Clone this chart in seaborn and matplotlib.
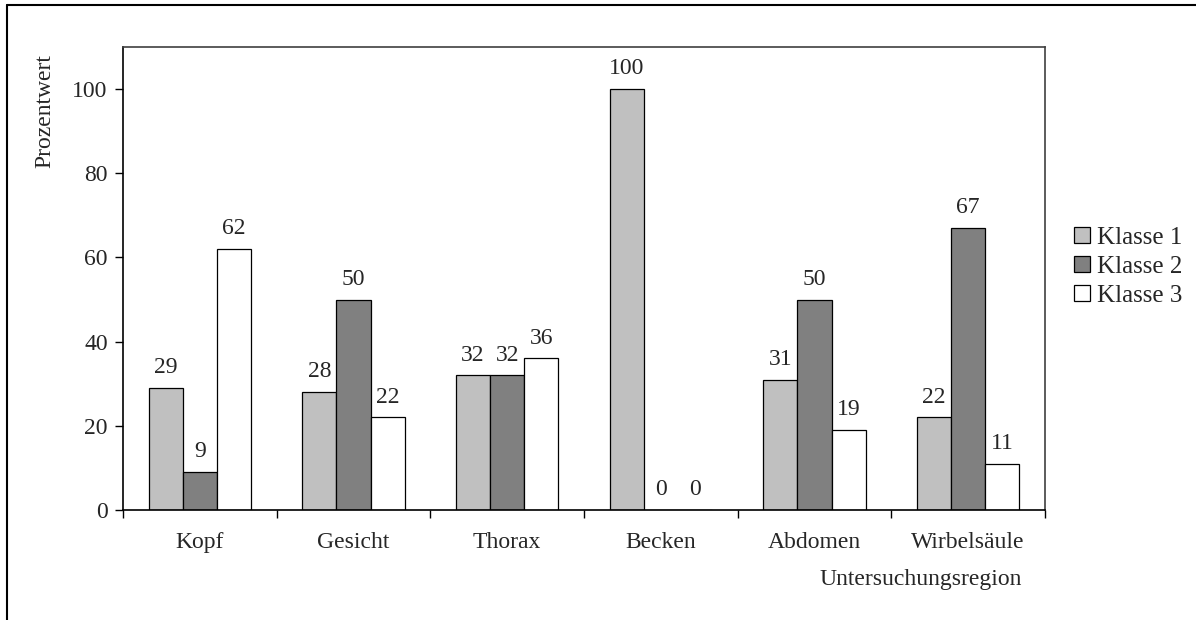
import matplotlib
matplotlib.use("Agg")
import matplotlib.pyplot as plt
from matplotlib.lines import Line2D
from matplotlib.patches import Patch
import seaborn as sns
import pandas as pd

regions = ["Kopf", "Gesicht", "Thorax", "Becken", "Abdomen", "Wirbelsäule"]
klassen = ["Klasse 1", "Klasse 2", "Klasse 3"]
klasse1 = [29, 28, 32, 100, 31, 22]
klasse2 = [9, 50, 32, 0, 50, 67]
klasse3 = [62, 22, 36, 0, 19, 11]
y_ticks = [0, 20, 40, 60, 80, 100]
colors = ["#C0C0C0", "#808080", "#FFFFFF"]

rows = []
for klasse, werte in zip(klassen, [klasse1, klasse2, klasse3]):
    for region, wert in zip(regions, werte):
        rows.append({"Region": region, "Klasse": klasse, "Wert": wert})
df = pd.DataFrame(rows)

sns.set_style("white")
plt.rcParams["font.family"] = ["Liberation Serif", "DejaVu Serif"]
FS = 17

fig = plt.figure(figsize=(11.96, 6.2), dpi=100)
ax = fig.add_axes([123 / 1196, 1 - 510 / 620, (1045 - 123) / 1196, (510 - 47) / 620])

sns.barplot(data=df, x="Region", y="Wert", hue="Klasse", order=regions,
            hue_order=klassen, palette=colors, saturation=1, width=2 / 3,
            edgecolor="black", linewidth=0.9, legend=False, ax=ax)

for cont in ax.containers:
    ax.bar_label(cont, labels=[f"{v:.0f}" for v in cont.datavalues],
                 padding=7, fontsize=FS)

ax.set_xlim(-0.5, 5.5)
ax.set_ylim(0, 110)
ax.set_yticks(y_ticks)
ax.set_xlabel("")
ax.set_ylabel("")

ax.set_xticks([i - 0.5 for i in range(7)], minor=True)
ax.tick_params(axis="x", which="minor", length=6, width=1, direction="out",
               bottom=True, color="black")
ax.tick_params(axis="x", which="major", length=0, pad=16, labelsize=FS)
ax.tick_params(axis="y", length=6, width=1, direction="out", left=True,
               pad=5, labelsize=FS, color="black")

for side in ["left", "bottom"]:
    ax.spines[side].set_color("black")
    ax.spines[side].set_linewidth(1.2)
for side in ["top", "right"]:
    ax.spines[side].set_color("#404040")
    ax.spines[side].set_linewidth(1.2)

fig.text(45 / 1196, 1 - 111 / 620, "Prozentwert", rotation=90,
         ha="center", va="center", fontsize=FS)
fig.text(1022 / 1196, 1 - 580 / 620, "Untersuchungsregion",
         ha="right", va="center", fontsize=FS)

handles = [Patch(facecolor=c, edgecolor="black", linewidth=0.9) for c in colors]
fig.legend(handles, klassen, loc="center left",
           bbox_to_anchor=(1074 / 1196, 1 - 267 / 620), frameon=False,
           fontsize=FS + 1, handlelength=0.62, handleheight=0.62,
           handletextpad=0.3, labelspacing=0.28, borderpad=0,
           borderaxespad=0)

# outer frame of the chart area
fig.add_artist(Line2D([7 / 1196, 7 / 1196], [0, 1 - 5 / 620],
                      transform=fig.transFigure, color="black", linewidth=1.5))
fig.add_artist(Line2D([7 / 1196, 1], [1 - 5 / 620, 1 - 5 / 620],
                      transform=fig.transFigure, color="black", linewidth=1.5))

fig.savefig("out.png", dpi=100)
